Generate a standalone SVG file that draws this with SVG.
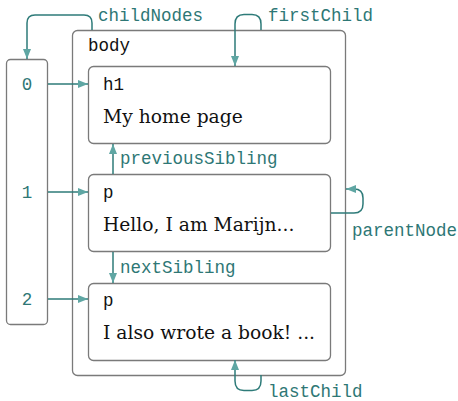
<svg xmlns="http://www.w3.org/2000/svg" width="458" height="401" viewBox="0 0 458 401">
<defs>
<marker id="ah" viewBox="0 0 10 8" refX="10" refY="4" markerWidth="10" markerHeight="8" markerUnits="userSpaceOnUse" orient="auto">
<path d="M0,0 L10,4 L0,8 z" fill="#5fa6a3"/>
</marker>
</defs>
<style>
.box{fill:#fff;stroke:#7a7a7a;stroke-width:1.3}
.mono{font-family:"Liberation Mono","DejaVu Sans Mono",monospace;font-size:17.5px}
.tag{fill:#111}
.lbl{fill:#2e7775}
.serif{font-family:"DejaVu Serif","Liberation Serif",serif;font-size:18.7px;fill:#111}
.conn path{fill:none;stroke:#2e7b79;stroke-width:1.5;marker-end:url(#ah)}
</style>
<rect width="458" height="401" fill="#fff"/>
<g id="array">
<rect class="box" x="6.5" y="59.5" width="41" height="265" rx="4"/>
<text class="mono lbl" x="27" y="90" text-anchor="middle">0</text>
<text class="mono lbl" x="27" y="198" text-anchor="middle">1</text>
<text class="mono lbl" x="27" y="305" text-anchor="middle">2</text>
</g>
<g id="body">
<rect class="box" x="72.5" y="30.5" width="273" height="345" rx="5"/>
<text class="mono tag" x="88" y="51">body</text>
</g>
<g id="h1">
<rect class="box" x="88.5" y="66.5" width="242" height="77" rx="5"/>
<text class="mono tag" x="103" y="90">h1</text>
<text class="serif" x="103" y="123">My home page</text>
</g>
<g id="p1">
<rect class="box" x="88.5" y="174.5" width="242" height="77" rx="5"/>
<text class="mono tag" x="103" y="198">p</text>
<text class="serif" x="103" y="231">Hello, I am Marijn...</text>
</g>
<g id="p2">
<rect class="box" x="88.5" y="283.5" width="242" height="77" rx="5"/>
<text class="mono tag" x="103" y="306">p</text>
<text class="serif" x="103" y="339">I also wrote a book! ...</text>
</g>
<g id="connectors" class="conn">
<path d="M48,84 H88"/>
<path d="M48,192 H88"/>
<path d="M48,299 H88"/>
<path d="M92,30 V23 Q92,15 84,15 H35 Q27,15 27,23 V59"/>
<path d="M261,30 V24 Q261,14.5 252,14.5 H244 Q235,14.5 235,24 V66"/>
<path d="M261,375 V381 Q261,390.5 252,390.5 H244 Q235,390.5 235,381 V360"/>
<path d="M331,213 H354 Q363,213 363,204 V198 Q363,189 354,189 H346"/>
<path d="M113,174 V144"/>
<path d="M113,252 V283"/>
</g>
<g id="labels" class="mono lbl">
<text x="98" y="21">childNodes</text>
<text x="268" y="21">firstChild</text>
<text x="120" y="164">previousSibling</text>
<text x="352" y="236">parentNode</text>
<text x="120" y="273">nextSibling</text>
<text x="268" y="397">lastChild</text>
</g>
</svg>
